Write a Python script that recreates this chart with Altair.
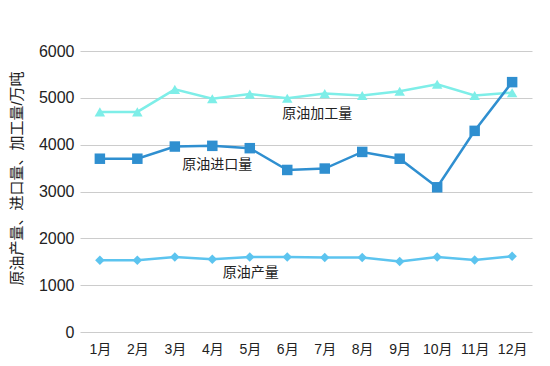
import altair as alt
import pandas as pd

months = ["1月", "2月", "3月", "4月", "5月", "6月", "7月", "8月", "9月", "10月", "11月", "12月"]
processing = [4700, 4700, 5180, 4980, 5080, 4990, 5090, 5050, 5140, 5290, 5050, 5110]
imports = [3700, 3700, 3960, 3975, 3925, 3460, 3490, 3845, 3700, 3090, 4295, 5335]
production = [1530, 1530, 1600, 1555, 1600, 1600, 1590, 1590, 1505, 1600, 1535, 1615]

series_names = ["原油加工量", "原油进口量", "原油产量"]
series_colors = ["#7eeee8", "#2f8fd0", "#5cc4ef"]
series_shapes = ["triangle-up", "square", "diamond"]
series_sizes = [110, 110, 90]

label_month = ["6月", "4月", "5月"]
label_value = [4660, 3570, 1260]
label_dx = [30, 5, 1]

FONT = "Liberation Sans, Noto Sans CJK SC, sans-serif"

rows = []
for name, vals in zip(series_names, [processing, imports, production]):
    for m, v in zip(months, vals):
        rows.append({"month": m, "value": v, "series": name})
df = pd.DataFrame(rows)

xscale = alt.Scale(domain=months, padding=0.53)
yscale = alt.Scale(domain=[0, 6000])

base = alt.Chart(df).encode(
    x=alt.X("month:O", sort=months, scale=xscale,
            axis=alt.Axis(title=None, labelAngle=0, labelFontSize=14, labelColor="#222",
                          labelFont=FONT, ticks=False, domain=False, labelPadding=10, grid=False)),
    y=alt.Y("value:Q", scale=yscale,
            axis=alt.Axis(values=[0, 1000, 2000, 3000, 4000, 5000, 6000], format="d",
                          title="原油产量、进口量、加工量/万吨", titleFontSize=15,
                          titleFontWeight="normal", titleColor="#222", titleFont=FONT,
                          titleAngle=-90, titleX=-64, titleY=127, titleAlign="center",
                          titleBaseline="middle",
                          labelFontSize=16, labelColor="#222", labelFont=FONT,
                          ticks=False, domain=False, labelPadding=6,
                          gridColor="#cccccc", gridWidth=1)),
)

layers = []
for name, col, shp, sz in zip(series_names, series_colors, series_shapes, series_sizes):
    sub = base.transform_filter(alt.datum.series == name)
    layers.append(sub.mark_line(color=col, strokeWidth=2.5))
    layers.append(sub.mark_point(shape=shp, size=sz, filled=True, color=col, opacity=1))

lab_df = pd.DataFrame({"month": label_month, "value": label_value, "text": series_names})
labels = []
for i in range(3):
    labels.append(
        alt.Chart(lab_df.iloc[[i]]).mark_text(fontSize=14, color="#222", font=FONT, dx=label_dx[i])
        .encode(x=alt.X("month:O", sort=months, scale=xscale),
                y=alt.Y("value:Q", scale=yscale),
                text="text:N")
    )

chart = alt.layer(*layers, *labels).properties(
    width=452, height=281,
    background="white",
    autosize=alt.AutoSizeParams(type="none"),
    padding={"left": 72, "top": 43, "right": 10, "bottom": 30},
).configure_view(stroke=None)

chart.save("out.html", embed_options={"renderer": "svg", "actions": False})
